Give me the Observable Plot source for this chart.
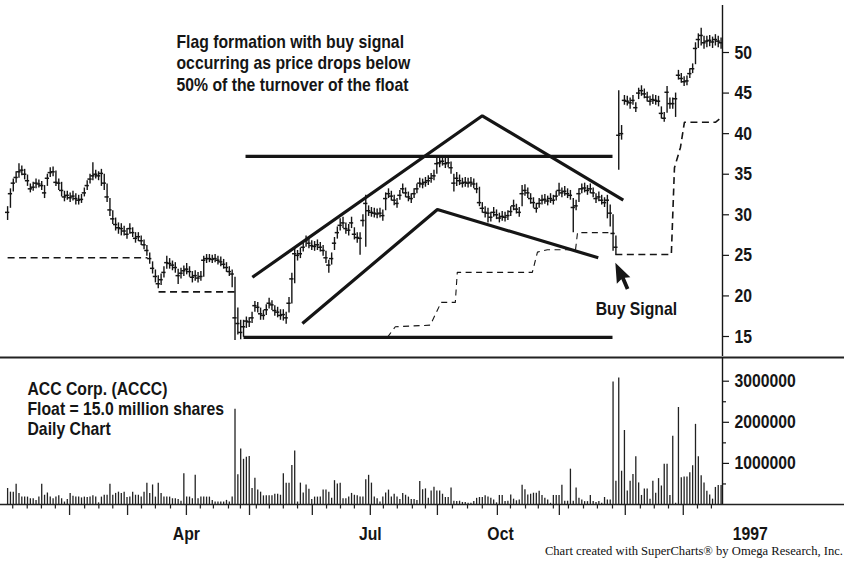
<!DOCTYPE html>
<html><head><meta charset="utf-8">
<script src="https://cdn.jsdelivr.net/npm/d3@7"></script>
<script src="https://cdn.jsdelivr.net/npm/@observablehq/plot@0.6"></script>
<style>
html,body{margin:0;padding:0;background:#fff;}
#chart{position:relative;width:844px;height:563px;overflow:hidden;background:#fff;}
#chart svg{display:block;}
#caption{position:absolute;right:1px;top:545.5px;font-family:"Liberation Serif","DejaVu Serif",serif;font-size:12.6px;line-height:11px;color:#111;white-space:nowrap;}
</style></head><body>
<div id="chart"><div id="caption">Chart created with SuperCharts® by Omega Research, Inc.</div></div>
<script>
// ---------- DATA ----------
// daily bars, index 0..251
const closes = [
30.3,32.6,33.9,34.6,35.3,35.5,35.0,34.2,33.2,33.4,
33.9,33.8,33.6,32.7,34.5,35.2,35.3,34.0,33.9,33.0,
32.2,32.4,32.1,32.3,32.0,31.8,31.9,32.7,33.6,34.4,
34.8,35.0,34.8,35.1,33.9,32.2,30.6,29.5,28.8,28.4,
28.3,28.0,27.6,28.3,27.8,27.1,27.3,26.8,26.3,25.6,
24.6,23.4,22.4,21.5,22.0,22.9,24.1,24.0,23.8,23.5,
22.5,22.8,23.1,23.3,23.0,22.3,22.5,22.2,22.4,24.4,
24.6,24.6,24.5,24.6,24.4,24.2,23.9,23.5,23.0,22.7,
17.3,16.6,15.5,16.2,16.9,16.8,17.3,18.8,18.6,17.8,
17.6,18.3,19.1,18.9,18.2,18.0,17.6,17.7,17.3,19.1,
22.1,25.2,25.0,25.2,26.0,26.8,26.5,26.2,26.1,26.3,
26.0,25.6,24.7,23.8,24.6,26.5,27.8,28.7,29.0,28.3,
28.1,29.0,27.6,27.2,27.1,29.3,31.4,30.5,30.3,30.2,
30.1,30.2,29.9,32.0,32.6,32.3,31.8,31.4,32.4,33.2,
32.7,32.2,32.0,32.6,33.2,33.9,33.8,34.0,34.2,34.5,
34.8,36.3,36.4,36.6,36.3,36.4,35.8,33.9,34.5,34.2,
33.9,34.0,33.9,34.0,33.8,33.2,31.5,30.8,30.3,30.2,
29.7,30.3,30.0,29.6,29.8,29.7,29.9,30.4,31.1,30.7,
30.3,32.6,33.0,32.7,32.0,31.5,30.8,31.4,31.8,31.9,
31.7,32.0,31.8,32.3,33.0,32.7,32.9,32.6,32.4,30.9,
31.1,32.6,33.2,33.3,33.0,33.2,32.7,32.0,32.2,31.8,
31.5,31.8,30.2,27.7,26.0,39.8,40.0,44.1,44.0,43.8,
44.1,43.2,45.0,45.3,44.9,44.5,44.0,44.2,44.1,44.0,
42.5,41.9,45.1,43.7,43.7,44.3,47.2,46.8,46.4,46.5,
47.4,48.0,50.5,51.6,52.1,51.2,51.4,51.5,51.3,51.6,51.4,51.2];
const highs = [
31.0,33.2,34.4,35.3,36.3,36.0,35.6,34.9,33.8,34.0,
34.4,34.3,34.1,33.6,35.0,35.8,35.9,35.4,34.4,34.0,
32.9,32.9,32.7,32.9,32.6,32.4,32.5,33.3,34.2,35.0,
36.4,35.5,35.3,35.6,35.0,33.8,32.0,30.5,29.6,29.0,
28.9,28.6,28.3,28.9,28.4,27.8,27.8,27.4,26.9,26.2,
25.3,24.2,23.2,22.5,22.7,23.6,24.9,24.6,24.3,24.1,
23.3,23.4,23.7,24.0,23.6,23.0,23.1,22.9,23.0,24.9,
25.1,25.1,25.0,25.1,24.9,24.8,24.5,24.1,23.6,23.2,
22.3,18.5,17.0,17.0,17.4,17.3,18.0,19.3,19.2,18.5,
18.2,18.9,19.7,19.4,18.8,18.6,18.3,18.3,18.0,19.8,
22.8,25.9,25.6,25.9,26.6,27.4,27.1,26.8,26.7,26.9,
26.6,26.2,25.5,24.4,25.3,27.2,28.5,29.5,29.7,29.0,
28.8,29.7,28.4,27.8,27.8,30.0,32.4,31.1,30.9,30.8,
30.7,30.8,30.6,32.7,33.2,32.9,32.4,32.0,33.0,33.8,
33.3,32.8,32.6,33.2,33.8,34.5,34.4,34.6,34.8,35.1,
35.5,37.0,37.1,37.2,37.0,37.1,36.5,35.0,35.2,34.9,
34.5,34.6,34.5,34.6,34.4,33.9,33.4,31.5,31.0,30.8,
30.3,30.9,30.6,30.2,30.4,30.3,30.5,31.0,31.8,31.3,
30.9,33.6,33.7,33.3,32.6,32.1,31.4,32.0,32.4,32.5,
32.3,32.6,32.4,32.9,33.9,33.3,33.5,33.2,33.0,32.0,
31.8,33.2,33.8,33.9,33.6,33.8,33.3,32.6,32.8,32.4,
32.1,32.4,31.2,30.0,27.4,45.3,41.0,44.7,44.6,44.4,
44.7,43.8,45.6,45.9,45.5,45.1,44.6,44.8,44.7,44.6,
43.3,42.6,45.8,44.4,44.4,45.0,47.8,47.4,47.0,47.1,
48.0,48.6,51.2,52.3,53.0,52.0,52.0,52.1,51.9,52.2,52.0,51.8];
const lows = [
29.3,30.8,32.8,33.9,34.5,34.8,34.3,33.5,32.7,32.9,
33.2,33.3,33.0,32.0,33.5,34.6,34.7,33.5,33.0,32.2,
31.6,31.8,31.5,31.7,31.2,31.2,31.4,32.2,33.0,33.8,
34.2,34.4,34.2,33.5,33.0,31.5,29.8,28.8,28.0,27.6,
27.4,27.4,27.0,27.6,27.2,26.5,26.7,26.2,25.7,24.9,
23.9,22.7,21.6,20.9,21.3,22.2,23.3,23.3,23.1,22.8,
21.4,22.1,22.4,22.6,22.3,21.6,21.8,21.6,21.8,22.3,
24.0,24.1,24.0,24.1,23.8,23.6,23.3,22.9,22.4,21.0,
14.5,15.2,14.6,14.9,16.0,16.1,16.6,18.0,17.9,17.0,
17.0,17.6,18.4,18.2,17.5,17.3,17.0,16.9,16.5,17.9,
19.0,21.5,24.3,24.6,25.4,26.0,25.8,25.6,25.5,25.6,
25.4,24.9,24.0,22.8,23.8,25.6,27.0,28.0,28.3,27.6,
27.4,28.3,26.9,26.5,25.0,28.5,26.0,29.8,29.7,29.6,
29.5,29.6,29.2,30.5,32.0,31.7,31.1,30.8,31.8,32.6,
32.1,31.6,31.4,32.0,32.6,33.3,33.2,33.4,33.6,33.9,
34.2,35.0,35.8,36.0,35.7,35.8,35.0,32.8,33.5,33.6,
33.3,33.4,33.3,33.4,33.2,32.6,31.0,30.2,29.6,29.0,
29.1,29.7,29.4,29.0,29.2,29.1,29.3,29.8,30.5,30.1,
29.7,31.0,32.3,32.0,31.3,30.8,30.2,30.8,31.2,31.3,
31.1,31.4,31.2,31.7,32.3,32.1,32.3,32.0,31.8,27.8,
30.5,31.5,32.6,32.7,32.4,32.6,32.1,31.4,31.6,31.2,
30.9,29.5,28.5,25.5,25.0,35.5,39.2,43.5,43.4,43.0,
43.5,42.6,44.2,44.6,44.3,43.9,43.4,43.6,43.5,43.3,
41.8,41.4,42.5,43.0,43.0,42.0,46.6,46.2,45.8,45.9,
46.8,47.4,48.5,50.5,50.8,50.4,50.6,50.7,50.5,50.8,50.6,50.4];
// daily volume, thousands of shares
const volumeK = [
390,300,300,490,270,180,180,180,140,140,
100,180,490,225,280,180,140,180,210,140,
60,120,270,200,180,180,160,180,170,180,
210,180,40,180,225,225,490,225,270,300,
270,300,170,180,300,225,225,180,300,520,
270,475,180,520,270,180,180,180,140,140,
120,80,750,180,180,140,710,140,180,180,
180,180,100,60,60,60,60,100,60,180,
2320,725,1350,1100,1150,1170,390,640,350,300,
210,210,210,210,250,250,225,750,520,520,
950,1300,60,520,280,475,370,120,180,180,
180,350,350,300,150,580,500,520,140,140,
180,270,225,210,180,180,600,710,520,180,
140,60,180,280,350,180,250,180,120,270,
225,180,120,120,100,560,360,380,150,330,
420,330,330,250,170,170,400,80,70,80,
50,50,30,30,70,150,170,170,210,180,
150,110,40,220,220,70,80,230,130,90,
110,470,360,230,250,275,275,320,220,150,
110,30,220,220,220,470,80,80,860,80,
400,150,110,70,70,220,70,50,70,30,
170,110,110,2980,565,3080,810,1800,330,565,
730,1160,525,220,380,380,130,565,275,630,
450,980,980,220,1660,30,2360,650,670,670,
770,940,1950,1160,700,525,320,230,130,415,
465,465];

// "50% of float turnover" dashed line (bar index, price, segment)
const turnIdx = [0,49.2, 53.1,80.2,
  133.6,136.4,148.7,152.5,157.5,158.2,184.6,186.4,189.9,199.8,200.5,213.1,
  213.8,233.5,234.6,236.7,238.1,249,250.8];
const turnVal = [24.7,24.7, 20.5,20.5,
  14.9,16.2,16.4,19.2,19.2,22.9,22.9,25.4,25.7,25.7,27.8,27.8,
  25.1,25.1,35.8,38.3,41.4,41.4,41.9];
const turnSeg = ["a","a","b","b",
  "c","c","c","c","c","c","c","c","c","c","c","c",
  "d","d","d","d","d","d","d"];

// hand-drawn flag formation lines (bar index, price, segment)
const trendIdx = [83.7,212.8, 83.0,212.8, 86.1,167.0,216.6, 103.7,151.2,207.8];
const trendVal = [37.2,37.2, 14.9,14.9, 22.3,42.2,31.8, 16.6,30.65,24.7];
const trendSeg = ["top","top","bot","bot","up","up","up","low","low","low"];

// annotations
const titleText = "Flag formation with buy signal\noccurring as price drops below\n50% of the turnover of the float";
const infoText = "ACC Corp. (ACCC)\nFloat = 15.0 million shares\nDaily Chart";
const signalLabel = "Buy Signal";
const signalPoint = {i: 213.8, v: 24.1};   // pointer tip
const signalLabelPoint = {i: 221.2, v: 18.34};

// axes / ticks
const priceTicks = [15,20,25,30,35,40,45,50];
const volTicks = [1000000,2000000,3000000];
const volMinorTicks = [500000,1500000,2500000];
const monthTicks = [21.8,42.2,62.9,85.1,107.2,127.6,151.2,172.3,194.1,217.3,237.7];
const weekTicks = [1.8,6.9,11.9,16.8,27.1,32.1,37.0,47.1,52.0,57.3,67.8,72.4,77.7,81.9,87.5,92.1,97.0,102.0,
  112.2,117.1,122.0,132.2,137.1,142.4,147.0,156.5,161.8,167.0,176.9,182.2,186.7,192.0,197.3,202.6,207.5,212.8,
  222.6,227.5,232.5,242.7,247.6];
const xLabels = ["Apr","Jul","Oct","1997"];
const xLabelPos = [62.9,127.6,173.4,261.3];

// ---------- BUILD ----------
const bars = closes.map((c, i) => ({i, c, hi: highs[i], lo: lows[i]}));
const vols = volumeK.map((v, i) => ({i, v: v * 1000}));
const turnover = turnIdx.map((x, k) => ({i: x, v: turnVal[k], seg: turnSeg[k]}));
const trend = trendIdx.map((x, k) => ({i: x, v: trendVal[k], seg: trendSeg[k]}));

const F = '"Liberation Sans",Arial,Helvetica,sans-serif';
const NARROW = 0.83; // condensed look of the original typeface
const W = 844, MR = 122;
const X_DOMAIN = [-2.5, 251.5];
const X_EDGE = X_DOMAIN[0] + (X_DOMAIN[1] - X_DOMAIN[0]) * W / (W - MR);
const INK = "#151515";
const style = {fontFamily: F, fontSize: "19px", fontWeight: "bold", color: INK, background: "white", overflow: "visible"};

const cursor = {
  draw(ctx) {
    ctx.moveTo(0, 0); ctx.lineTo(1.5, 21); ctx.lineTo(6, 16.5); ctx.lineTo(10.5, 27);
    ctx.lineTo(14, 25.5); ctx.lineTo(9.5, 15); ctx.lineTo(15, 14.5); ctx.closePath();
  }
};

const PY = [12.535, 56.41];
const pricePlot = Plot.plot({
  width: W, height: 356, marginLeft: 0, marginRight: MR, marginTop: 0, marginBottom: 0,
  style,
  x: {domain: X_DOMAIN, axis: null},
  y: {domain: PY},
  marks: [
    Plot.line(turnover.filter(d => d.seg !== "c"), {x: "i", y: "v", z: "seg", stroke: INK, strokeWidth: 1.6, strokeDasharray: "7,4.5", strokeLinecap: "butt"}),
    Plot.line(turnover.filter(d => d.seg === "c"), {x: "i", y: "v", z: "seg", stroke: INK, strokeWidth: 1.1, strokeDasharray: "6,4.5", strokeLinecap: "butt"}),
    Plot.ruleX(bars, {x: "i", y1: "lo", y2: "hi", stroke: INK, strokeWidth: 1.4}),
    Plot.ruleY(bars, {y: "c", x1: d => d.i - 0.75, x2: d => d.i + 0.75, stroke: INK, strokeWidth: 1.5}),
    Plot.line(trend, {x: "i", y: "v", z: "seg", stroke: INK, strokeWidth: 3.2, strokeLinecap: "butt", strokeLinejoin: "miter"}),
    Plot.ruleX([X_DOMAIN[1]], {y1: () => 55.8, y2: () => PY[0], stroke: INK, strokeWidth: 1.4}),
    Plot.axisY({anchor: "right", ticks: priceTicks, tickSize: 6, tickPadding: 6, label: null, fontSize: 19, fontWeight: "bold", strokeWidth: 1.2}),
    Plot.text([titleText], {text: d => d, frameAnchor: "top-left", dx: 176, dy: 32, textAnchor: "start", lineAnchor: "top", lineHeight: 1.13, fontSize: 19, fontWeight: "bold", fill: INK}),
    Plot.text([signalLabelPoint], {x: "i", y: "v", text: () => signalLabel, textAnchor: "middle", fontSize: 19, fontWeight: "bold", fill: INK}),
    Plot.dot([signalPoint], {x: "i", y: "v", symbol: cursor, fill: INK, stroke: "none"})
  ]
});

const VH = 189, VB = 148;            // svg height, baseline row
const PX_PER_M = 41.1;
const vPerPx = 1e6 / PX_PER_M;
const VMAX = (VB - 1) * vPerPx;
const volPlot = Plot.plot({
  width: W, height: VH, marginLeft: 0, marginRight: MR, marginTop: 1, marginBottom: VH - VB,
  style,
  x: {domain: X_DOMAIN, axis: null},
  y: {domain: [0, VMAX]},
  marks: [
    Plot.ruleX(vols, {x: "i", y1: () => 0, y2: "v", stroke: "#222", strokeWidth: 1.3}),
    Plot.ruleY([VMAX], {x1: () => X_DOMAIN[0], x2: () => X_EDGE, stroke: "#222", strokeWidth: 2.2}),
    Plot.ruleY([0], {x1: () => X_DOMAIN[0], x2: () => X_EDGE, stroke: "#222", strokeWidth: 1.5}),
    Plot.ruleX([X_DOMAIN[1]], {y1: () => 0, y2: () => VMAX, stroke: INK, strokeWidth: 1.4}),
    Plot.ruleX(weekTicks, {x: d => d, y1: () => 0, y2: () => -4.5 * vPerPx, stroke: "#222", strokeWidth: 1.2}),
    Plot.ruleX(monthTicks, {x: d => d, y1: () => 0, y2: () => -11 * vPerPx, stroke: "#222", strokeWidth: 1.3}),
    Plot.axisY({anchor: "right", ticks: volTicks, tickFormat: d3.format("d"), tickSize: 6, tickPadding: 6, label: null, fontSize: 19, fontWeight: "bold", strokeWidth: 1.2}),
    Plot.axisY({anchor: "right", ticks: volMinorTicks, tickFormat: () => "", tickSize: 3, label: null, strokeWidth: 1.2}),
    Plot.text(xLabels, {x: (d, k) => xLabelPos[k], text: d => d, frameAnchor: "bottom", lineAnchor: "middle", dy: 29, textAnchor: "middle", fontSize: 19, fontWeight: "bold", fill: INK}),
    Plot.text([infoText], {text: d => d, frameAnchor: "top-left", dx: 27, dy: 23, textAnchor: "start", lineAnchor: "top", lineHeight: 1.053, fontSize: 19, fontWeight: "bold", fill: INK})
  ]
});

// give the bold sans a condensed width, keeping every text's anchor point in place
function condense(svg, k) {
  svg.querySelectorAll("text").forEach(t => {
    let pre = "";
    const xs = t.getAttribute("x");
    if (xs != null && /^\s*-?[\d.]+\s*$/.test(xs)) { pre = ` translate(${+xs},0)`; t.removeAttribute("x"); }
    const tr = t.getAttribute("transform") || "";
    t.setAttribute("transform", `${tr}${pre} scale(${k},1)`);
  });
}
condense(pricePlot, NARROW);
condense(volPlot, NARROW);

const chart = document.getElementById("chart");
chart.appendChild(pricePlot);
chart.appendChild(volPlot);
</script></body></html>
